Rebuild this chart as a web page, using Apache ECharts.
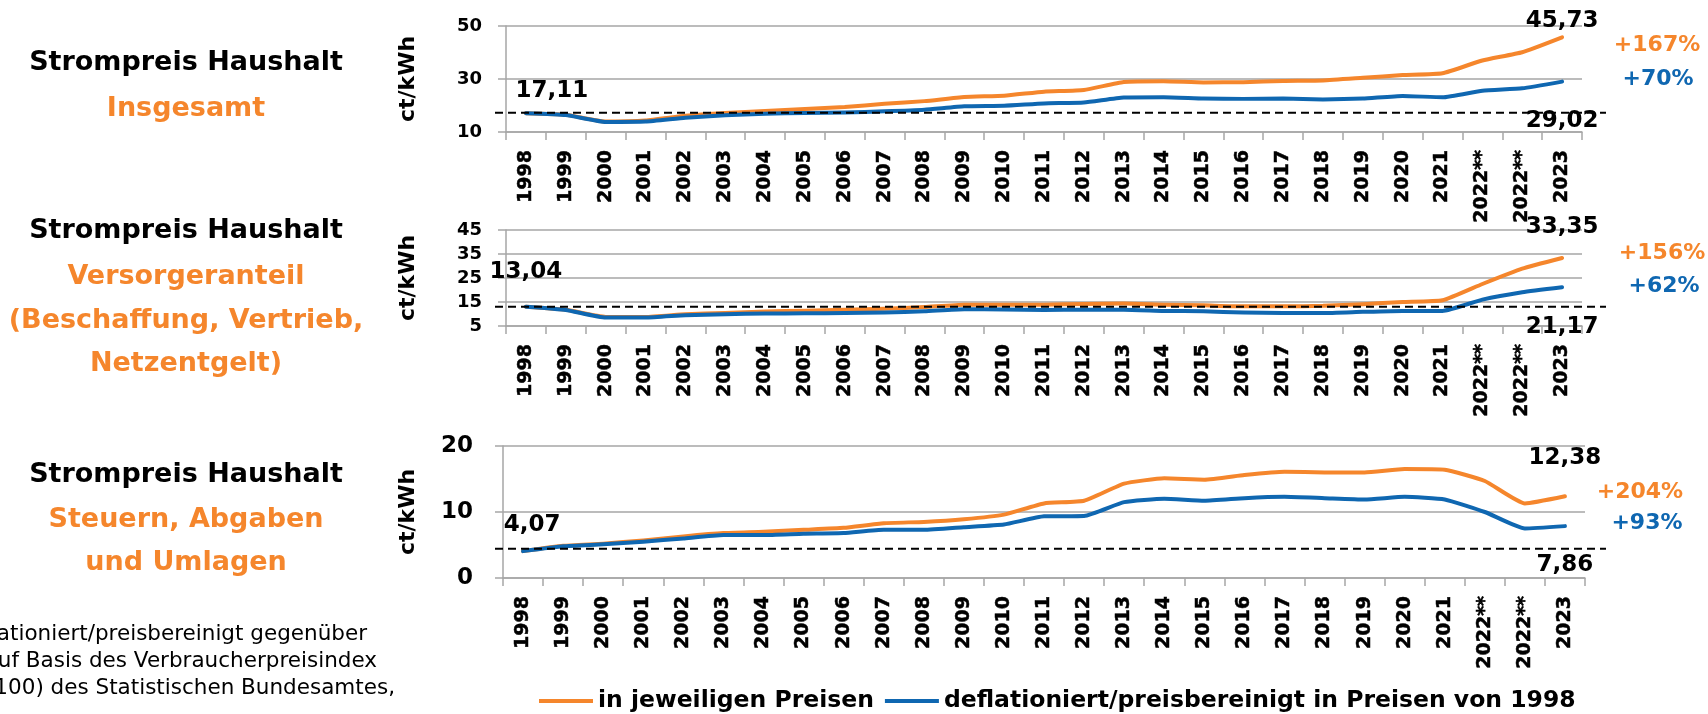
<!DOCTYPE html>
<html><head><meta charset="utf-8">
<script src="https://cdn.jsdelivr.net/npm/echarts@6/dist/echarts.min.js"></script>
<style>html,body{margin:0;padding:0;background:#fff;overflow:hidden;} #c{width:1708px;height:714px;}</style>
</head><body><div id="c"></div>
<script>
// ---------- DATA ----------
const categories = ['1998','1999','2000','2001','2002','2003','2004','2005','2006','2007','2008','2009','2010','2011','2012','2013','2014','2015','2016','2017','2018','2019','2020','2021','2022**','2022**','2023'];
const totalNominal = [17.11,16.53,13.94,14.32,16.11,17.19,17.96,18.66,19.46,20.64,21.65,23.21,23.69,25.23,25.89,28.84,29.14,28.70,28.80,29.28,29.47,30.46,31.47,32.16,37.0,40.1,45.73];
const totalReal = [17.11,16.4,13.8,13.95,15.4,16.3,16.9,17.2,17.4,17.8,18.4,19.7,19.9,20.8,21.1,23.0,23.1,22.6,22.5,22.6,22.3,22.6,23.6,23.1,25.6,26.5,29.02];
const supplierNominal = [13.04,11.75,8.8,8.75,9.9,10.4,11.0,11.4,11.8,12.2,12.9,13.9,13.9,13.9,14.2,14.4,13.9,13.6,13.2,13.2,13.4,14.1,15.0,15.7,22.5,28.9,33.35];
const supplierReal = [13.04,11.7,8.5,8.5,9.5,9.9,10.2,10.3,10.4,10.6,11.1,12.0,11.9,11.7,11.8,11.8,11.3,11.1,10.6,10.4,10.4,10.9,11.3,11.3,16.0,19.1,21.17];
const taxNominal = [4.07,4.87,5.2,5.7,6.3,6.8,7.0,7.3,7.6,8.3,8.5,8.9,9.6,11.3,11.7,14.3,15.1,14.9,15.6,16.1,16.0,16.0,16.5,16.4,14.7,11.3,12.38];
const taxReal = [4.07,4.8,5.1,5.5,6.0,6.5,6.5,6.7,6.8,7.3,7.3,7.7,8.1,9.35,9.4,11.5,12.0,11.7,12.1,12.3,12.1,11.9,12.3,11.9,10.0,7.5,7.86];
const dashedLevels = [17.3, 13.0, 4.45];
const yMins = [10, 5, 0];
const yMaxs = [50, 45, 20];
const ySteps = [20, 10, 10];
const seriesNames = ['in jeweiligen Preisen', 'deflationiert/preisbereinigt in Preisen von 1998'];
const unitName = 'ct/kWh';
const titleLines = [
  [['Strompreis Haushalt', 0], ['Insgesamt', 1]],
  [['Strompreis Haushalt', 0], ['Versorgeranteil', 1], ['(Beschaffung, Vertrieb,', 1], ['Netzentgelt)', 1]],
  [['Strompreis Haushalt', 0], ['Steuern, Abgaben', 1], ['und Umlagen', 1]]
];
const footnoteLines = ['deflationiert/preisbereinigt gegenüber', '1998 auf Basis des Verbraucherpreisindex', '(2020=100) des Statistischen Bundesamtes,'];

// ---------- STYLE / LAYOUT ----------
const F = '"DejaVu Sans", Verdana, sans-serif';
const ORANGE = '#F5862C', BLUE = '#0F67B1', GRIDC = '#A6A6A6';
const panels = [
  {nom: totalNominal, real: totalReal},
  {nom: supplierNominal, real: supplierReal},
  {nom: taxNominal, real: taxReal}
];
const gridBoxes = [
  {left: 506, right: 126, top: 26, height: 106},
  {left: 506, right: 126, top: 230, height: 96},
  {left: 503, right: 123, top: 446, height: 132}
];
const yLabelSize = [18, 18, 23];
const yLabelMargin = [24, 24, 30];
const titleY = [[63, 109], [231, 277, 321, 364], [475, 520, 563]];
const startOff = [[26, -22], [0, -35], [9, -26]];
const endNomOff = [[0, -16], [0, -31], [0, -38]];
const endRealOff = [[0, 39], [0, 40], [0, 39]];
const pctNomOff = [[95, 8], [100, -5], [75, -4]];
const pctRealOff = [[96, -2], [102, -1], [82, -3]];
const footY = [634, 661, 688], footRight = [367, 377, 395];

const chart = echarts.init(document.getElementById('c'));

const grid = [], xAxis = [], yAxis = [], series = [];
panels.forEach((p, i) => {
  grid.push(Object.assign({containLabel: false}, gridBoxes[i]));
  xAxis.push({
    type: 'category', gridIndex: i, data: categories, boundaryGap: true,
    axisLine: {show: true, lineStyle: {color: GRIDC, width: 1.5}},
    axisTick: {show: true, length: 8, lineStyle: {color: GRIDC, width: 1.5}, alignWithLabel: false, interval: 0},
    axisLabel: {interval: 0, rotate: 90, margin: 18, fontFamily: F, fontWeight: 'bold', fontSize: 19, color: '#000',
                textBorderColor: '#000', textBorderWidth: 0.5},
    splitLine: {show: false}
  });
  yAxis.push({
    type: 'value', gridIndex: i, min: yMins[i], max: yMaxs[i], interval: ySteps[i],
    name: unitName, nameLocation: 'middle', nameRotate: 90, nameGap: i === 2 ? 84 : 87,
    nameTextStyle: {fontFamily: F, fontWeight: 'bold', fontSize: 22, color: '#000'},
    axisLine: {show: true, lineStyle: {color: GRIDC, width: 1.5}},
    axisTick: {show: true, length: 8, lineStyle: {color: GRIDC, width: 1.5}},
    axisLabel: {margin: yLabelMargin[i], fontFamily: F, fontWeight: 'bold', fontSize: yLabelSize[i], color: '#000'},
    splitLine: {show: true, lineStyle: {color: GRIDC, width: 1.5}}
  });
  series.push({
    name: seriesNames[0], type: 'line', xAxisIndex: i, yAxisIndex: i, data: p.nom,
    showSymbol: false, smooth: 0.15, z: 2,
    lineStyle: {color: ORANGE, width: 4, cap: 'round', join: 'round'}, itemStyle: {color: ORANGE}
  });
  series.push({
    name: seriesNames[1], type: 'line', xAxisIndex: i, yAxisIndex: i, data: p.real,
    showSymbol: false, smooth: 0.15, z: 3,
    lineStyle: {color: BLUE, width: 4, cap: 'round', join: 'round'}, itemStyle: {color: BLUE}
  });
});

chart.setOption({
  animation: false,
  backgroundColor: '#fff',
  grid, xAxis, yAxis, series,
  legend: {
    data: seriesNames, left: 534, top: 684, icon: 'rect', itemWidth: 54, itemHeight: 4, itemGap: 11,
    textStyle: {fontFamily: F, fontWeight: 'bold', fontSize: 23.5, color: '#000'}
  }
});

// ---------- annotations tied to the data ----------
const fmt = v => v.toFixed(2).replace('.', ',');
const pct = (a, b) => '+' + Math.round((a / b - 1) * 100) + '%';
const g = [];
const txt = (x, y, text, font, fill, align) => ({
  type: 'text', x, y, z: 100, silent: true,
  style: {text, font, fill, textAlign: align || 'center', textVerticalAlign: 'middle'}
});
const numFont = 'bold 23px ' + F;
const pctFont = 'bold 22px ' + F;
const last = categories.length - 1;
panels.forEach((p, i) => {
  const px = (ci, v) => chart.convertToPixel({gridIndex: i}, [ci, v]);
  const by = px(0, dashedLevels[i])[1];
  g.push({type: 'line', z: 50, silent: true, shape: {x1: 495, y1: by, x2: 1606, y2: by},
          style: {stroke: '#000', lineWidth: 2, lineDash: [8, 5]}});
  const s0 = px(0, p.nom[0]);
  g.push(txt(s0[0] + startOff[i][0], s0[1] + startOff[i][1], fmt(p.nom[0]), numFont, '#000'));
  const eN = px(last, p.nom[last]);
  const eR = px(last, p.real[last]);
  g.push(txt(eN[0] + endNomOff[i][0], eN[1] + endNomOff[i][1], fmt(p.nom[last]), numFont, '#000'));
  g.push(txt(eR[0] + endRealOff[i][0], eR[1] + endRealOff[i][1], fmt(p.real[last]), numFont, '#000'));
  g.push(txt(eN[0] + pctNomOff[i][0], eN[1] + pctNomOff[i][1], pct(p.nom[last], p.nom[0]), pctFont, ORANGE));
  g.push(txt(eR[0] + pctRealOff[i][0], eR[1] + pctRealOff[i][1], pct(p.real[last], p.real[0]), pctFont, BLUE));
  titleLines[i].forEach((ln, k) => {
    g.push(txt(186, titleY[i][k], ln[0], 'bold 27px ' + F, ln[1] ? ORANGE : '#000'));
  });
});
footnoteLines.forEach((t, k) => {
  g.push(txt(footRight[k], footY[k], t, '21.5px ' + F, '#000', 'right'));
});
chart.setOption({graphic: {elements: g}});
</script>
</body></html>
